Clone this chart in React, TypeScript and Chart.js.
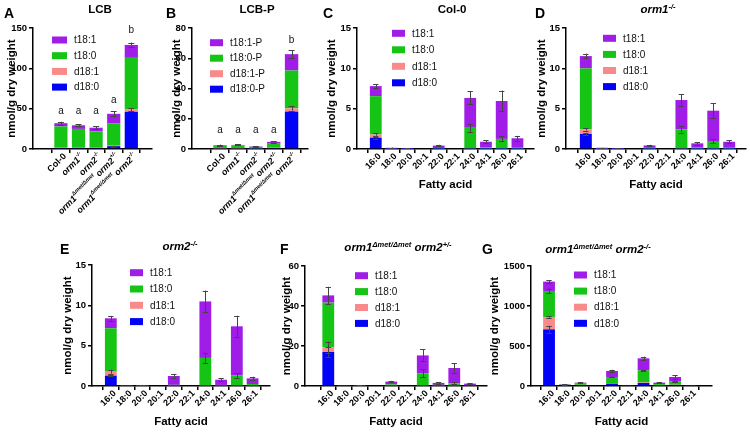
import React, { useEffect, useRef } from "react";
import { Chart, registerables } from "chart.js";

Chart.register(...registerables);

const FONT = '"Liberation Sans", Arial, Helvetica, sans-serif';

// ---------- labels ----------
type Seg = [string, boolean];
const genotypeLabels: Seg[][] = [
  [["Col-0", false]],
  [["orm1", false], ["-/-", true]],
  [["orm2", false], ["-/-", true]],
  [["orm1", false], ["Δmet/Δmet", true], [" orm2", false], ["+/-", true]],
  [["orm1", false], ["Δmet/Δmet", true], [" orm2", false], ["-/-", true]],
];
const genotypeItalic = [false, true, true, true, true];
const fattyAcids = ["16:0", "18:0", "20:0", "20:1", "22:0", "22:1", "24:0", "24:1", "26:0", "26:1"];
const lcbNames = ["d18:0", "d18:1", "t18:0", "t18:1"];
const lcbPNames = ["d18:0-P", "d18:1-P", "t18:0-P", "t18:1-P"];
const seriesColors = ["#0202F6", "#F98A8A", "#16C416", "#9F1DE6"];

// ---------- A: LCB ----------
const aD180 = [1.5, 1.5, 1.5, 3.5, 46];
const aD181 = [0.5, 0.4, 0.4, 0.6, 3];
const aT180 = [26, 23, 20, 27.5, 64];
const aT181 = [4, 4.5, 4.5, 12, 16];
const aErrD180 = [0, 0, 0, 0.5, 0];
const aErrD181 = [0, 0, 0, 0, 2];
const aErrT180 = [0, 0, 0, 0, 0];
const aErrT181 = [1.8, 1.3, 1.5, 3, 3];
const aLetters = ["a", "a", "a", "a", "b"];
const aLetterY = [47, 47, 47, 61, 147];

// ---------- B: LCB-P ----------
const bD180 = [0.4, 0.4, 0.3, 0.6, 24.7];
const bD181 = [0.2, 0.2, 0.1, 0.2, 2.2];
const bT180 = [1.6, 1.8, 1.0, 2.7, 25];
const bT181 = [0.4, 0.3, 0.3, 1.2, 10.8];
const bErrD180 = [0, 0, 0, 0, 0];
const bErrD181 = [0, 0, 0, 0, 1.5];
const bErrT180 = [0, 0, 0, 0, 0];
const bErrT181 = [0.3, 0.3, 0.3, 0.5, 2.5];
const bLetters = ["a", "a", "a", "a", "b"];
const bLetterY = [12.6, 12.6, 12.6, 12.6, 71.6];

// ---------- C: Col-0 ----------
const cD180 = [1.4, 0.03, 0.02, 0, 0.02, 0, 0.05, 0.02, 0.03, 0.02];
const cD181 = [0.4, 0.05, 0.03, 0, 0.02, 0, 0.03, 0.01, 0.02, 0.01];
const cT180 = [4.75, 0.02, 0.02, 0, 0.08, 0, 2.55, 0.15, 1.2, 0.22];
const cT181 = [1.25, 0.05, 0.03, 0, 0.3, 0, 3.7, 0.72, 4.7, 1.08];
const cErrD180 = [0.1, 0, 0, 0, 0, 0, 0, 0, 0, 0];
const cErrD181 = [0.15, 0, 0, 0, 0, 0, 0, 0, 0, 0];
const cErrT180 = [0, 0, 0, 0, 0, 0, 0.5, 0, 0.3, 0];
const cErrT181 = [0.25, 0.03, 0.02, 0, 0.1, 0, 0.8, 0.2, 1.3, 0.3];

// ---------- D: orm1-/- ----------
const dD180 = [1.86, 0.03, 0.02, 0, 0.02, 0, 0.05, 0.02, 0.03, 0.02];
const dD181 = [0.58, 0.08, 0.03, 0, 0.02, 0, 0.03, 0.01, 0.02, 0.01];
const dT180 = [7.56, 0.03, 0.03, 0, 0.1, 0, 2.36, 0.2, 0.94, 0.22];
const dT181 = [1.52, 0.02, 0.04, 0, 0.3, 0, 3.63, 0.47, 3.76, 0.65];
const dErrD180 = [0.15, 0, 0, 0, 0, 0, 0, 0, 0, 0];
const dErrD181 = [0.15, 0, 0, 0, 0, 0, 0, 0, 0, 0];
const dErrT180 = [0, 0, 0, 0, 0, 0, 0.4, 0, 0.25, 0];
const dErrT181 = [0.3, 0.02, 0.02, 0, 0.08, 0, 0.75, 0.15, 0.9, 0.2];

// ---------- E: orm2-/- ----------
const eD180 = [1.28, 0.02, 0.02, 0, 0.02, 0, 0.05, 0.02, 0.03, 0.02];
const eD181 = [0.5, 0.03, 0.03, 0, 0.02, 0, 0.03, 0.01, 0.02, 0.01];
const eT180 = [5.37, 0.02, 0.03, 0, 0.1, 0, 3.4, 0.1, 1.25, 0.22];
const eT181 = [1.24, 0.02, 0.04, 0, 1.1, 0, 7.0, 0.65, 6.1, 0.7];
const eErrD180 = [0.1, 0, 0, 0, 0, 0, 0, 0, 0, 0];
const eErrD181 = [0.25, 0, 0, 0, 0, 0, 0, 0, 0, 0];
const eErrT180 = [0, 0, 0, 0, 0, 0, 0.65, 0, 0.3, 0];
const eErrT181 = [0.3, 0, 0.02, 0, 0.2, 0, 1.35, 0.2, 1.3, 0.2];

// ---------- F: orm1Δmet/Δmet orm2+/- ----------
const fD180 = [17, 0.05, 0.1, 0, 0.1, 0, 0.2, 0.1, 0.1, 0.05];
const fD181 = [2.4, 0.05, 0.05, 0, 0.1, 0, 0.1, 0.05, 0.05, 0.05];
const fT180 = [22.3, 0.05, 0.1, 0, 0.6, 0, 6.0, 0.4, 1.15, 0.2];
const fT181 = [3.6, 0.05, 0.15, 0, 1.4, 0, 9.0, 1.0, 7.7, 0.9];
const fErrD180 = [2.5, 0, 0, 0, 0, 0, 0, 0, 0, 0];
const fErrD181 = [2.8, 0, 0, 0, 0, 0, 0, 0, 0, 0];
const fErrT180 = [0, 0, 0, 0, 0, 0, 2.0, 0, 0.5, 0];
const fErrT181 = [4.3, 0, 0.1, 0, 0.4, 0, 3, 0.4, 2.3, 0.3];

// ---------- G: orm1Δmet/Δmet orm2-/- ----------
const gD180 = [708, 15, 12, 0, 30, 1, 38, 8, 12, 1];
const gD181 = [155, 2, 2, 0, 5, 0.5, 6, 2, 3, 0.5];
const gT180 = [325, 3, 15, 0, 77, 0.5, 152, 14, 40, 0.5];
const gT181 = [117, 2, 13, 0, 76, 0, 150, 18, 58, 0.5];
const gErrD180 = [45, 0, 0, 0, 0, 0, 0, 0, 0, 0];
const gErrD181 = [10, 0, 0, 0, 0, 0, 0, 0, 0, 0];
const gErrT180 = [30, 0, 0, 0, 5, 0, 8, 0, 5, 0];
const gErrT181 = [20, 4, 6, 0, 15, 0, 20, 6, 20, 0];

// ---------- panel layout ----------
type Area = { l: number; t: number; r: number; b: number };
type PanelCfg = {
  labels: Seg[][];
  italic: boolean[];
  series: number[][];
  errors: number[][];
  names: string[];
  yMax: number;
  yStep: number;
  letters?: string[];
  letterY?: number[];
  area: Area;
  yTitleX: number;
  canvasBottom: number;
  xMin: number;
  xMax: number;
  legend: { dx: number; dy: number; gap: number; bw: number; bh: number };
  xTitle: boolean;
  labelSize: number;
};

const faItalic = fattyAcids.map(() => false);
const faLabels: Seg[][] = fattyAcids.map((s) => [[s, false]]);

const panels: PanelCfg[] = [
  {
    labels: genotypeLabels, italic: genotypeItalic,
    series: [aD180, aD181, aT180, aT181], errors: [aErrD180, aErrD181, aErrT180, aErrT181],
    names: lcbNames, yMax: 150, yStep: 50, letters: aLetters, letterY: aLetterY,
    area: { l: 33, t: 28, r: 152, b: 149 }, yTitleX: 12, canvasBottom: 215,
    xMin: -0.91, xMax: 4.5, legend: { dx: 19, dy: 12, gap: 15.7, bw: 15, bh: 7 }, xTitle: false, labelSize: 9,
  },
  {
    labels: genotypeLabels, italic: genotypeItalic,
    series: [bD180, bD181, bT180, bT181], errors: [bErrD180, bErrD181, bErrT180, bErrT181],
    names: lcbPNames, yMax: 80, yStep: 20, letters: bLetters, letterY: bLetterY,
    area: { l: 192, t: 28, r: 308, b: 149 }, yTitleX: 177, canvasBottom: 215,
    xMin: -0.92, xMax: 4.27, legend: { dx: 18, dy: 14.7, gap: 15.5, bw: 13, bh: 7 }, xTitle: false, labelSize: 9,
  },
  {
    labels: faLabels, italic: faItalic,
    series: [cD180, cD181, cT180, cT181], errors: [cErrD180, cErrD181, cErrT180, cErrT181],
    names: lcbNames, yMax: 15, yStep: 5,
    area: { l: 357, t: 28, r: 534, b: 149 }, yTitleX: 332, canvasBottom: 192,
    xMin: -0.63, xMax: 9.49, legend: { dx: 35, dy: 5.3, gap: 16.5, bw: 13, bh: 7 }, xTitle: true, labelSize: 9,
  },
  {
    labels: faLabels, italic: faItalic,
    series: [dD180, dD181, dT180, dT181], errors: [dErrD180, dErrD181, dErrT180, dErrT181],
    names: lcbNames, yMax: 15, yStep: 5,
    area: { l: 566, t: 28, r: 746, b: 149 }, yTitleX: 542, canvasBottom: 192,
    xMin: -0.68, xMax: 9.49, legend: { dx: 37, dy: 10.3, gap: 16.1, bw: 13, bh: 7 }, xTitle: true, labelSize: 9,
  },
  {
    labels: faLabels, italic: faItalic,
    series: [eD180, eD181, eT180, eT181], errors: [eErrD180, eErrD181, eErrT180, eErrT181],
    names: lcbNames, yMax: 15, yStep: 5,
    area: { l: 92, t: 265, r: 270, b: 386 }, yTitleX: 68, canvasBottom: 429,
    xMin: -0.63, xMax: 9.54, legend: { dx: 38, dy: 7.7, gap: 16.3, bw: 13, bh: 7 }, xTitle: true, labelSize: 9,
  },
  {
    labels: faLabels, italic: faItalic,
    series: [fD180, fD181, fT180, fT181], errors: [fErrD180, fErrD181, fErrT180, fErrT181],
    names: lcbNames, yMax: 60, yStep: 20,
    area: { l: 305, t: 266, r: 487, b: 386 }, yTitleX: 287, canvasBottom: 429,
    xMin: -0.9, xMax: 9.5, legend: { dx: 50, dy: 9.7, gap: 15.9, bw: 13, bh: 7 }, xTitle: true, labelSize: 9,
  },
  {
    labels: faLabels, italic: faItalic,
    series: [gD180, gD181, gT180, gT181], errors: [gErrD180, gErrD181, gErrT180, gErrT181],
    names: lcbNames, yMax: 1500, yStep: 500,
    area: { l: 531, t: 266, r: 712, b: 386 }, yTitleX: 495, canvasBottom: 429,
    xMin: -0.57, xMax: 9.77, legend: { dx: 43, dy: 9, gap: 16.1, bw: 13, bh: 7 }, xTitle: true, labelSize: 9,
  },
];

const AXIS_TITLE_SIZE = 11.5;
const PAD_TOP = 12;

function Panel({ cfg }: { cfg: PanelCfg }) {
  const ref = useRef<HTMLCanvasElement>(null);
  const lh = AXIS_TITLE_SIZE * 1.2;
  const left = Math.round(cfg.yTitleX - lh / 2);
  const top = cfg.area.t - PAD_TOP;
  const padRight = Math.min(6, 750 - cfg.area.r);
  const width = cfg.area.r + padRight - left;
  const height = cfg.canvasBottom - top;

  useEffect(() => {
    if (!ref.current) return;
    const n = cfg.labels.length;
    const datasets = cfg.series.map((vals, si) => ({
      label: cfg.names[si],
      data: vals.map((v, i) => ({ x: i, y: v })),
      backgroundColor: seriesColors[si],
      borderWidth: 0,
      barPercentage: 0.75,
      categoryPercentage: 1,
    }));

    const decor = {
      id: "decor",
      afterDatasetsDraw(chart: any) {
        const ctx = chart.ctx as CanvasRenderingContext2D;
        const ys = chart.scales.y;
        // error bars
        ctx.save();
        ctx.strokeStyle = "#444";
        ctx.lineWidth = 1;
        const cum = new Array(n).fill(0);
        cfg.series.forEach((vals, si) => {
          const meta = chart.getDatasetMeta(si);
          vals.forEach((v, i) => {
            cum[i] += v;
            const e = cfg.errors[si][i];
            if (!e) return;
            const el = meta.data[i];
            const x = el.x;
            const w = el.width * 0.45;
            const y1 = ys.getPixelForValue(cum[i] + e);
            const y2 = ys.getPixelForValue(Math.max(0, cum[i] - e));
            ctx.beginPath();
            ctx.moveTo(Math.round(x) + 0.5, y1);
            ctx.lineTo(Math.round(x) + 0.5, y2);
            ctx.moveTo(x - w / 2, Math.round(y1) + 0.5);
            ctx.lineTo(x + w / 2, Math.round(y1) + 0.5);
            ctx.moveTo(x - w / 2, Math.round(y2) + 0.5);
            ctx.lineTo(x + w / 2, Math.round(y2) + 0.5);
            ctx.stroke();
          });
        });
        ctx.restore();
      },
      afterDraw(chart: any) {
        const ctx = chart.ctx as CanvasRenderingContext2D;
        const xs = chart.scales.x;
        const ys = chart.scales.y;
        const ca = chart.chartArea;
        ctx.save();
        ctx.fillStyle = "#000";
        // x labels (rotated 45deg)
        const size = cfg.labelSize;
        cfg.labels.forEach((segs, i) => {
          const px = xs.getPixelForValue(i);
          const fontFor = (sup: boolean) =>
            `${cfg.italic[i] ? "italic " : ""}bold ${sup ? size * 0.62 : size}px ${FONT}`;
          let total = 0;
          const widths = segs.map(([t, sup]) => {
            ctx.font = fontFor(sup);
            const w = ctx.measureText(t).width;
            total += w;
            return w;
          });
          ctx.save();
          ctx.translate(px + 4, xs.top + 6);
          ctx.rotate(-Math.PI / 4);
          ctx.textBaseline = "middle";
          ctx.textAlign = "left";
          let x = -total;
          segs.forEach(([t, sup], k) => {
            ctx.font = fontFor(sup);
            ctx.fillText(t, x, sup ? -size * 0.4 : 0);
            x += widths[k];
          });
          ctx.restore();
        });
        // legend inside the plot
        const lg = cfg.legend;
        ctx.font = `10px ${FONT}`;
        ctx.textBaseline = "middle";
        ctx.textAlign = "left";
        for (let k = 0; k < cfg.series.length; k++) {
          const si = cfg.series.length - 1 - k;
          const cy = ca.top + lg.dy + k * lg.gap;
          const bx = ca.left + lg.dx;
          ctx.fillStyle = seriesColors[si];
          ctx.fillRect(bx, cy - lg.bh / 2, lg.bw, lg.bh);
          ctx.fillStyle = "#111";
          ctx.fillText(cfg.names[si], bx + lg.bw + 7, cy + 0.5);
        }
        // significance letters
        if (cfg.letters && cfg.letterY) {
          ctx.font = `10px ${FONT}`;
          ctx.textAlign = "center";
          ctx.fillStyle = "#111";
          cfg.letters.forEach((t, i) => {
            ctx.fillText(t, xs.getPixelForValue(i), ys.getPixelForValue(cfg.letterY![i]));
          });
        }
        ctx.restore();
      },
    };

    const axisCommon = {
      border: { color: "#000", width: 1.5 },
    };

    const chart = new Chart(ref.current, {
      type: "bar",
      data: { datasets: datasets as any },
      options: {
        responsive: false,
        animation: false,
        maintainAspectRatio: false,
        layout: { padding: { top: PAD_TOP, right: padRight, left: 0, bottom: 0 } },
        plugins: { legend: { display: false }, tooltip: { enabled: false } },
        scales: {
          x: {
            type: "linear",
            stacked: true,
            min: cfg.xMin,
            max: cfg.xMax,
            afterBuildTicks: (s: any) => {
              s.ticks = cfg.labels.map((_, i) => ({ value: i }));
            },
            afterFit: (s: any) => {
              s.height = cfg.canvasBottom - cfg.area.b;
            },
            ticks: { display: false },
            grid: { drawOnChartArea: false, drawTicks: true, tickLength: 4, color: "#000", lineWidth: 1.5 },
            title: {
              display: cfg.xTitle,
              text: "Fatty acid",
              color: "#000",
              font: { family: FONT, size: AXIS_TITLE_SIZE, weight: "bold" },
              padding: 0,
            },
            ...axisCommon,
          } as any,
          y: {
            stacked: true,
            min: 0,
            max: cfg.yMax,
            afterFit: (s: any) => {
              s.width = cfg.area.l - left;
            },
            ticks: {
              stepSize: cfg.yStep,
              color: "#000",
              font: { family: FONT, size: 9.5, weight: "bold" },
              padding: 2,
              callback: (v: any) => String(v),
            },
            grid: { drawOnChartArea: false, drawTicks: true, tickLength: 4, color: "#000", lineWidth: 1.5 },
            title: {
              display: true,
              text: "nmol/g dry weight",
              color: "#000",
              font: { family: FONT, size: AXIS_TITLE_SIZE, weight: "bold" },
              padding: 0,
            },
            ...axisCommon,
          } as any,
        },
      },
      plugins: [decor],
    });
    return () => chart.destroy();
  }, []);

  return (
    <canvas
      ref={ref}
      width={width}
      height={height}
      style={{ position: "absolute", left, top, width, height }}
    />
  );
}

const titleStyle = (cx: number, cy: number): React.CSSProperties => ({
  position: "absolute",
  left: cx - 100,
  top: cy - 8,
  width: 200,
  textAlign: "center",
  fontFamily: FONT,
  fontWeight: "bold",
  fontSize: 11.5,
  lineHeight: "16px",
  color: "#000",
  whiteSpace: "nowrap",
});
const letterStyle = (x: number, cy: number): React.CSSProperties => ({
  position: "absolute",
  left: x,
  top: cy - 9,
  fontFamily: FONT,
  fontWeight: "bold",
  fontSize: 14,
  lineHeight: "18px",
  color: "#000",
});
const supStyle: React.CSSProperties = { fontSize: 7.5, verticalAlign: "4px", lineHeight: 0 };

export default function App() {
  return (
    <div
      style={{
        position: "fixed",
        left: 0,
        top: 0,
        width: 750,
        height: 432,
        background: "#fff",
        overflow: "hidden",
      }}
    >
      {panels.map((p, i) => (
        <Panel key={i} cfg={p} />
      ))}
      <div style={letterStyle(4, 13)}>A</div>
      <div style={letterStyle(166, 13)}>B</div>
      <div style={letterStyle(323, 13)}>C</div>
      <div style={letterStyle(535, 13)}>D</div>
      <div style={letterStyle(60, 249)}>E</div>
      <div style={letterStyle(280, 249)}>F</div>
      <div style={letterStyle(482, 249)}>G</div>

      <div style={titleStyle(100, 9)}>LCB</div>
      <div style={titleStyle(257, 9)}>LCB-P</div>
      <div style={titleStyle(452, 9)}>Col-0</div>
      <div style={titleStyle(658, 9)}>
        <i>orm1</i>
        <i style={supStyle}>-/-</i>
      </div>
      <div style={titleStyle(180, 246)}>
        <i>orm2</i>
        <i style={supStyle}>-/-</i>
      </div>
      <div style={titleStyle(398, 247)}>
        <i>orm1</i>
        <i style={supStyle}>Δmet/Δmet</i>
        <i> orm2</i>
        <i style={supStyle}>+/-</i>
      </div>
      <div style={titleStyle(598, 249)}>
        <i>orm1</i>
        <i style={supStyle}>Δmet/Δmet</i>
        <i> orm2</i>
        <i style={supStyle}>-/-</i>
      </div>
    </div>
  );
}
